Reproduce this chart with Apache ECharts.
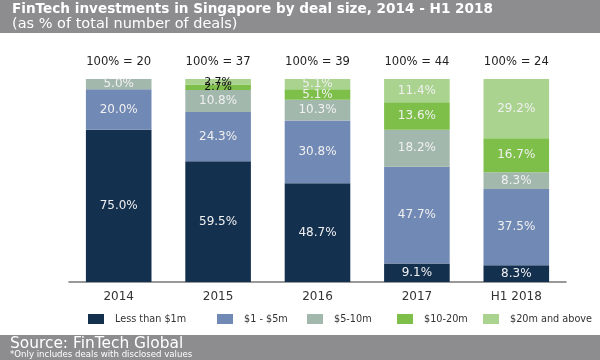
<!DOCTYPE html>
<html><head><meta charset="utf-8">
<script src="https://cdn.jsdelivr.net/npm/echarts@6/dist/echarts.min.js"></script>
<style>html,body{margin:0;padding:0;background:#fff}#c{width:600px;height:360px}</style>
</head><body><div id="c"></div>
<script>
const categories = ['2014','2015','2016','2017','H1 2018'];
const totals = ['100% = 20','100% = 37','100% = 39','100% = 44','100% = 24'];
const seriesNames = ['Less than $1m','$1 - $5m','$5-10m','$10-20m','$20m and above'];
const lessThan1m = [75.0, 59.5, 48.7, 9.1, 8.3];
const from1to5m = [20.0, 24.3, 30.8, 47.7, 37.5];
const from5to10m = [5.0, 10.8, 10.3, 18.2, 8.3];
const from10to20m = [0, 2.7, 5.1, 13.6, 16.7];
const above20m = [0, 2.7, 5.1, 11.4, 29.2];
const colors = ['#14304f','#7189b5','#a3b8ad','#7dbf48','#a9d38e'];
const values = [lessThan1m, from1to5m, from5to10m, from10to20m, above20m];
const legendLeft = [88, 217, 307, 397, 483];
const font = 'DejaVu Sans';
const chart = echarts.init(document.getElementById('c'));
chart.setOption({
  animation:false,
  textStyle:{fontFamily:font},
  title:[
    {text:'FinTech investments in Singapore by deal size, 2014 - H1 2018', left:12, top:2, padding:0,
     textStyle:{color:'#fff',fontSize:13.6,fontWeight:'bold',fontFamily:font}},
    {text:'(as % of total number of deals)', left:12, top:16.5, padding:0,
     textStyle:{color:'#fff',fontSize:14.5,fontWeight:'normal',fontFamily:font}}
  ],
  graphic:[
    {type:'rect',shape:{x:0,y:0,width:600,height:33},style:{fill:'#8d8d8f'},z:-1},
    {type:'rect',shape:{x:0,y:335,width:600,height:25},style:{fill:'#8d8d8f'},z:-1},
    {type:'text',left:10,top:336,style:{text:'Source: FinTech Global',fill:'#fff',font:'15.4px "DejaVu Sans"'}},
    {type:'text',left:10,top:350,style:{text:'*Only includes deals with disclosed values',fill:'#fff',font:'8.6px "DejaVu Sans"'}}
  ],
  legend: seriesNames.map((n,i)=>({data:[n], left:legendLeft[i], top:314, padding:0, itemWidth:16, itemHeight:10,
    textStyle:{fontSize:9.7,color:'#333',fontFamily:font,padding:[0,0,0,6]}, icon:'rect'})),
  grid:{left:69,right:34,top:79,bottom:78},
  xAxis:[
    {type:'category',data:categories,axisTick:{show:false},
     axisLine:{lineStyle:{color:'#777',width:1.5}},
     axisLabel:{color:'#333',fontSize:12,margin:9}},
    {type:'category',data:totals,position:'top',axisTick:{show:false},axisLine:{show:false},
     axisLabel:{color:'#222',fontSize:11.6,margin:11}}
  ],
  yAxis:{type:'value',min:0,max:100,show:false,splitLine:{show:false}},
  series: seriesNames.map((n,i)=>({
    name:n,type:'bar',stack:'a',barWidth:'66%',
    data: values[i].map((v,j)=> (i>=3 && j===1) ? {value:v,label:{color:'#111',fontSize:11}} : v),
    itemStyle:{color:colors[i]},
    label:{show:true,position:'inside',fontSize:12,fontFamily:font,
      color:'#f0f0f0',
      formatter:p=> p.value>0 ? p.value.toFixed(1)+'%' : ''}
  }))
});
</script></body></html>
